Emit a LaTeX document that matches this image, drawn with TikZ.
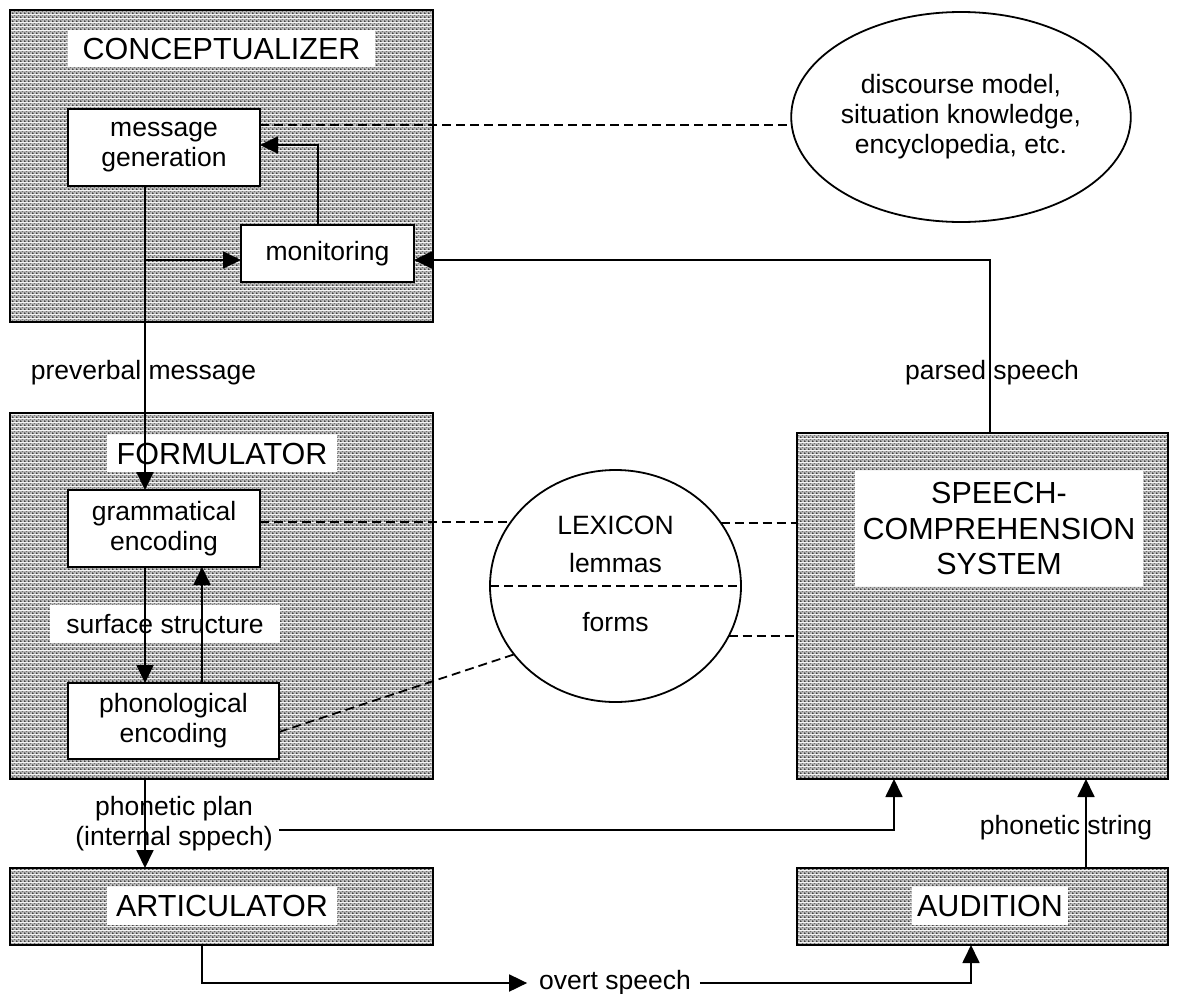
\documentclass[tikz,border=0pt]{standalone}
\usepackage{fontspec}
\setmainfont{Liberation Sans}
\usetikzlibrary{patterns,shapes.geometric,arrows.meta,calc}
\definecolor{patbg}{gray}{0.74}
\definecolor{patd}{gray}{0.08}
\definecolor{patl}{gray}{0.42}
\pgfdeclarepatterninherentlycolored{speckle}{\pgfpointorigin}{\pgfpoint{4pt}{4pt}}{\pgfpoint{4pt}{4pt}}{%
  \pgfsetfillcolor{patbg}%
  \pgfpathrectangle{\pgfpointorigin}{\pgfpoint{4pt}{4pt}}\pgfusepath{fill}%
  \pgfsetfillcolor{patd}%
  \pgfpathcircle{\pgfpoint{1pt}{1pt}}{1.0pt}\pgfusepath{fill}%
  \pgfsetfillcolor{patl}%
  \pgfpathcircle{\pgfpoint{3pt}{3pt}}{0.85pt}\pgfusepath{fill}%
}
\begin{document}
\begin{tikzpicture}[x=1pt,y=-1pt,
  small/.style={font=\fontsize{26.5}{30}\selectfont},
  bigbox/.style={draw, line width=2.7pt, pattern=speckle, inner sep=0pt, outer sep=0pt},
  title/.style={fill=white, inner sep=0pt, outer sep=0pt, align=center, font=\fontsize{30.5}{35.5}\selectfont},
  proc/.style={draw, fill=white, line width=1.8pt, inner sep=0pt, outer sep=0pt, align=center, small},
  lbl/.style={inner sep=0pt, outer sep=0pt, align=center, small},
  ell/.style={draw, ellipse, line width=1.8pt, inner sep=0pt, outer sep=0pt, align=center, small},
  arr/.style={line width=1.8pt, -{Triangle[length=18pt,width=17pt]}},
  dsh/.style={line width=1.8pt, dash pattern=on 9pt off 5pt}
]
\fill[white] (0,0) rectangle (1179,994);
\useasboundingbox (0,0) rectangle (1179,994);

% big boxes
\node[bigbox, minimum width=423pt, minimum height=312pt] (con) at (221.5,166) {};
\node[bigbox, minimum width=423pt, minimum height=366pt] (form) at (221.5,596) {};
\node[bigbox, minimum width=423pt, minimum height=77pt] (art) at (221.5,906.5) {};
\node[bigbox, minimum width=371pt, minimum height=346pt] (sc) at (982.5,606) {};
\node[bigbox, minimum width=371pt, minimum height=77pt] (aud) at (982.5,906.5) {};

% titles
\node[title, minimum width=307pt, minimum height=37pt] (conT) at (221.5,48.5) {CONCEPTUALIZER};
\node[title, minimum width=230pt, minimum height=37pt] (formT) at (222,453.5) {FORMULATOR};
\node[title, minimum width=230pt, minimum height=38pt] (artT) at (222,906) {ARTICULATOR};
\node[title, minimum width=288pt, minimum height=115pt] (scT) at (999,528.5) {SPEECH-\\COMPREHENSION\\SYSTEM};
\node[title, minimum width=156pt, minimum height=38pt] (audT) at (990,906) {AUDITION};

% process boxes
\node[proc, minimum width=192pt, minimum height=77pt] (mg) at (164,147.5) {message\\generation};
\node[proc, minimum width=173pt, minimum height=57pt] (mon) at (327.5,253.5) {monitoring};
\node[proc, minimum width=192pt, minimum height=77pt] (ge) at (164,528.5) {grammatical\\encoding};
\node[proc, minimum width=211pt, minimum height=76pt] (pe) at (173.5,721) {phonological\\encoding};
\node[lbl, fill=white, minimum width=230pt, minimum height=38pt] (ss) at (165,624) {surface structure};

% ellipses
\node[ell, minimum width=328pt, minimum height=210pt] (disc) at (961,117) {discourse model,\\situation knowledge,\\encyclopedia, etc.};
\node[ell, minimum width=251pt, minimum height=232pt] (lex) at (615.5,586) {};
\node[lbl] (lexT) at (615.5,525) {LEXICON};
\node[lbl] (lem) at (615.5,563) {lemmas};
\node[lbl] (frm) at (615.5,622) {forms};

% labels
\node[lbl] (pvm) at (143.5,373) {preverbal message};
\node[lbl] (ps) at (992,373) {parsed speech};
\node[lbl] (pp) at (174,824) {phonetic plan\\(internal sppech)};
\node[lbl] (pst) at (1066,828) {phonetic string};
\node[lbl] (ovs) at (615,983) {overt speech};

% connectors
\coordinate (br) at (145,260);
\draw[arr] ([xshift=-19pt]mg.south) -- ([xshift=-19pt]ge.north);
\draw[arr] (br) -- (mon.west |- br);
\draw[arr] ([xshift=-9.5pt]mon.north) |- ([yshift=2.5pt]mg.east);
\draw[dsh] ([yshift=22.5pt]mg.east) -- ([yshift=-8pt]disc.west);
\draw[arr] ([xshift=7.5pt]sc.north) |- ([yshift=-6.5pt]mon.east);
\draw[arr] ([xshift=-19pt]ge.south) -- ([xshift=-28.5pt]pe.north);
\draw[arr] ([xshift=28.5pt]pe.north) -- ([xshift=38pt]ge.south);
\coordinate (g1) at ([yshift=6.5pt]ge.east);
\draw[dsh] (g1) -- (lex.148.8 |- g1);
\draw[dsh] (lex.31.2) -- (sc.west |- lex.31.2);
\draw[dsh] (lex.-24.9) -- (sc.west |- lex.-24.9);
\draw[dsh] ([yshift=-11pt]pe.east) -- (lex.214.1);
\draw[dsh] (lex.west) -- (lex.east);
\draw[arr] ([xshift=-76.5pt]form.south) -- ([xshift=-76.5pt]art.north);
\draw[arr] ([xshift=6.5pt,yshift=-6pt]pp.east) -| ([xshift=-88.5pt]sc.south);
\draw[arr] ([xshift=103.5pt]aud.north) -- ([xshift=103.5pt]sc.south);
\draw[arr] ([xshift=-19.5pt]art.south) |- ([xshift=-12pt]ovs.west);
\draw[arr] ([xshift=9pt]ovs.east) -| ([xshift=-11.5pt]aud.south);
\end{tikzpicture}
\end{document}
